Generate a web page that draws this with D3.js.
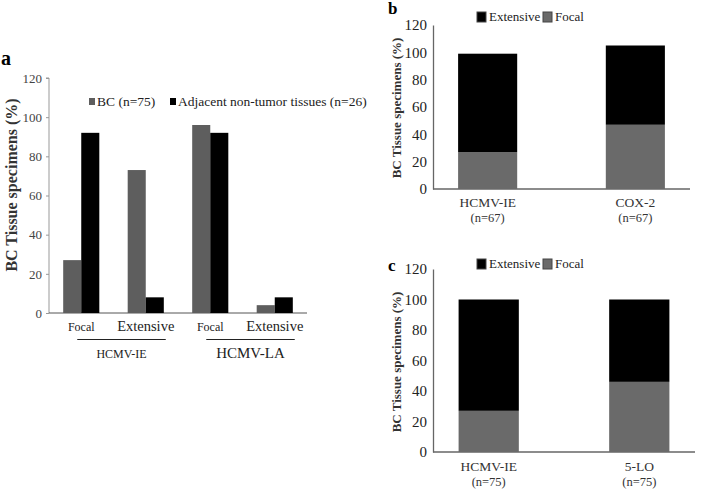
<!DOCTYPE html>
<html><head><meta charset="utf-8">
<script src="https://cdn.jsdelivr.net/npm/d3@7"></script>
<style>body{margin:0;background:#fff}svg{display:block}text{font-family:"Liberation Serif","Times New Roman",serif}</style>
</head><body><svg id="c" width="708" height="489"></svg>
<script>
// Panel a
const aCategories = ["Focal","Extensive","Focal","Extensive"];
const aGroups = ["HCMV-IE","HCMV-LA"];
const aSeries = ["BC (n=75)","Adjacent non-tumor tissues (n=26)"];
const aBC = [27,73,96,4];
const aAdj = [92,8,92,8];
const yTicks = [0,20,40,60,80,100,120];
// Panel b
const bCategories = ["HCMV-IE","COX-2"];
const bN = ["(n=67)","(n=67)"];
const bFocal = [27,47];
const bExtensive = [72,58];
// Panel c
const cCategories = ["HCMV-IE","5-LO"];
const cN = ["(n=75)","(n=75)"];
const cFocal = [27,46];
const cExtensive = [73,54];
const stackKeys = ["Extensive","Focal"];

const svg = d3.select("#c");
const black = "#000", grayA = "#5e5e5e", grayB = "#6a6a6a";

// ---------- Panel a ----------
{
  const x0=49, x1=307, yB=313, yT=78;
  const x = d3.scaleBand().domain(d3.range(4)).range([x0,x1]).paddingInner(0.44).paddingOuter(0.22);
  const y = d3.scaleLinear().domain([0,120]).range([yB,yT]);
  const g = svg.append("g");
  g.append("text").attr("x",1).attr("y",65).attr("font-size",20).attr("font-weight","bold").text("a");
  const ax = g.append("g").attr("transform",`translate(${x0},0)`).call(d3.axisLeft(y).tickValues(yTicks).tickSize(3).tickPadding(4));
  ax.select(".domain").attr("stroke","#999").attr("d",`M-3,${yT}H0V${yB}`);
  ax.selectAll(".tick line").attr("stroke","#999");
  ax.selectAll("text").attr("font-size",13).attr("fill","#444");
  g.append("line").attr("x1",x0).attr("x2",x1).attr("y1",yB).attr("y2",yB).attr("stroke","#555");
  const bw = x.bandwidth()/2;
  g.selectAll(".bc").data(aBC).join("rect").attr("x",(d,i)=>x(i)).attr("width",bw).attr("y",d=>y(d)).attr("height",d=>yB-y(d)).attr("fill",grayA);
  g.selectAll(".adj").data(aAdj).join("rect").attr("x",(d,i)=>x(i)+bw).attr("width",bw).attr("y",d=>y(d)).attr("height",d=>yB-y(d)).attr("fill",black);
  const fs = [12,14.5,12,14.5];
  g.selectAll(".cl").data(aCategories).join("text").attr("x",(d,i)=>x(i)+bw).attr("y",331).attr("text-anchor","middle")
    .attr("font-size",(d,i)=>fs[i]).attr("fill","#222").text(d=>d);
  aGroups.forEach((gname,k)=>{
    const xa = x(2*k)+bw-4, xb = x(2*k+1)+bw+20;
    g.append("line").attr("x1",xa).attr("x2",xb).attr("y1",339.5).attr("y2",339.5).attr("stroke","#222");
    g.append("text").attr("x",(xa+xb)/2).attr("y",358).attr("text-anchor","middle").attr("font-size",k?15:12).attr("fill","#222").text(gname);
  });
  const lg = g.append("g").attr("font-size",13.5).attr("fill","#222");
  lg.append("rect").attr("x",89).attr("y",98).attr("width",6).attr("height",7).attr("fill",grayA);
  lg.append("text").attr("x",97).attr("y",106).text(aSeries[0]);
  lg.append("rect").attr("x",170).attr("y",98).attr("width",6).attr("height",7).attr("fill",black);
  lg.append("text").attr("x",178).attr("y",106).text(aSeries[1]);
  g.append("text").attr("transform","translate(17,185) rotate(-90)").attr("text-anchor","middle")
    .attr("font-size",16).attr("font-weight","bold").attr("fill","#333").text("BC Tissue specimens (%)");
}

function stacked(opts){
  const {label,labY,x0,x1,yB,yT,cats,ns,focal,ext,legY,titleY,catY} = opts;
  const g = svg.append("g");
  const x = d3.scaleBand().domain(cats).range([x0,x1]).paddingInner(0.6).paddingOuter(0.17);
  const y = d3.scaleLinear().domain([0,120]).range([yB,yT]);
  g.append("text").attr("x",388).attr("y",labY).attr("font-size",17).attr("font-weight","bold").text(label);
  const ax = g.append("g").attr("transform",`translate(${x0},0)`).call(d3.axisLeft(y).tickValues(yTicks).tickSize(0).tickPadding(6));
  ax.select(".domain").attr("stroke","#666").attr("stroke-width",1.3);
  ax.selectAll("text").attr("font-size",15).attr("fill","#222");
  g.append("line").attr("x1",x0).attr("x2",x1).attr("y1",yB).attr("y2",yB).attr("stroke","#666").attr("stroke-width",1.3);
  const data = cats.map((c,i)=>({cat:c,Focal:focal[i],Extensive:ext[i]}));
  const series = d3.stack().keys(["Focal","Extensive"])(data);
  const col = {Focal:grayB, Extensive:black};
  series.forEach(s=>{
    g.selectAll(null).data(s).join("rect").attr("x",d=>x(d.data.cat)).attr("width",x.bandwidth())
      .attr("y",d=>y(d[1])).attr("height",d=>y(d[0])-y(d[1])).attr("fill",col[s.key]);
  });
  cats.forEach((c,i)=>{
    const cx = x(c)+x.bandwidth()/2;
    g.append("text").attr("x",cx).attr("y",catY).attr("text-anchor","middle").attr("font-size",13.5).attr("fill","#333").text(c);
    g.append("text").attr("x",cx).attr("y",catY+15).attr("text-anchor","middle").attr("font-size",12.5).attr("fill","#333").text(ns[i]);
  });
  const lg = g.append("g").attr("font-size",13).attr("fill","#222");
  lg.append("rect").attr("x",477).attr("y",legY-5).attr("width",9).attr("height",10).attr("fill",black).attr("stroke","#444");
  lg.append("text").attr("x",489).attr("y",legY+4).text(stackKeys[0]);
  lg.append("rect").attr("x",543).attr("y",legY-5).attr("width",9).attr("height",10).attr("fill",grayB).attr("stroke","#444");
  lg.append("text").attr("x",555).attr("y",legY+4).text(stackKeys[1]);
  g.append("text").attr("transform",`translate(401,${titleY}) rotate(-90)`).attr("text-anchor","middle")
    .attr("font-size",13).attr("font-weight","bold").attr("fill","#333").text("BC Tissue specimens (%)");
}
stacked({label:"b",labY:14,x0:433,x1:690,yB:189,yT:25,cats:bCategories,ns:bN,focal:bFocal,ext:bExtensive,legY:17,titleY:108,catY:207});
stacked({label:"c",labY:271,x0:433,x1:695,yB:452,yT:269,cats:cCategories,ns:cN,focal:cFocal,ext:cExtensive,legY:264,titleY:362,catY:471});
</script></body></html>
